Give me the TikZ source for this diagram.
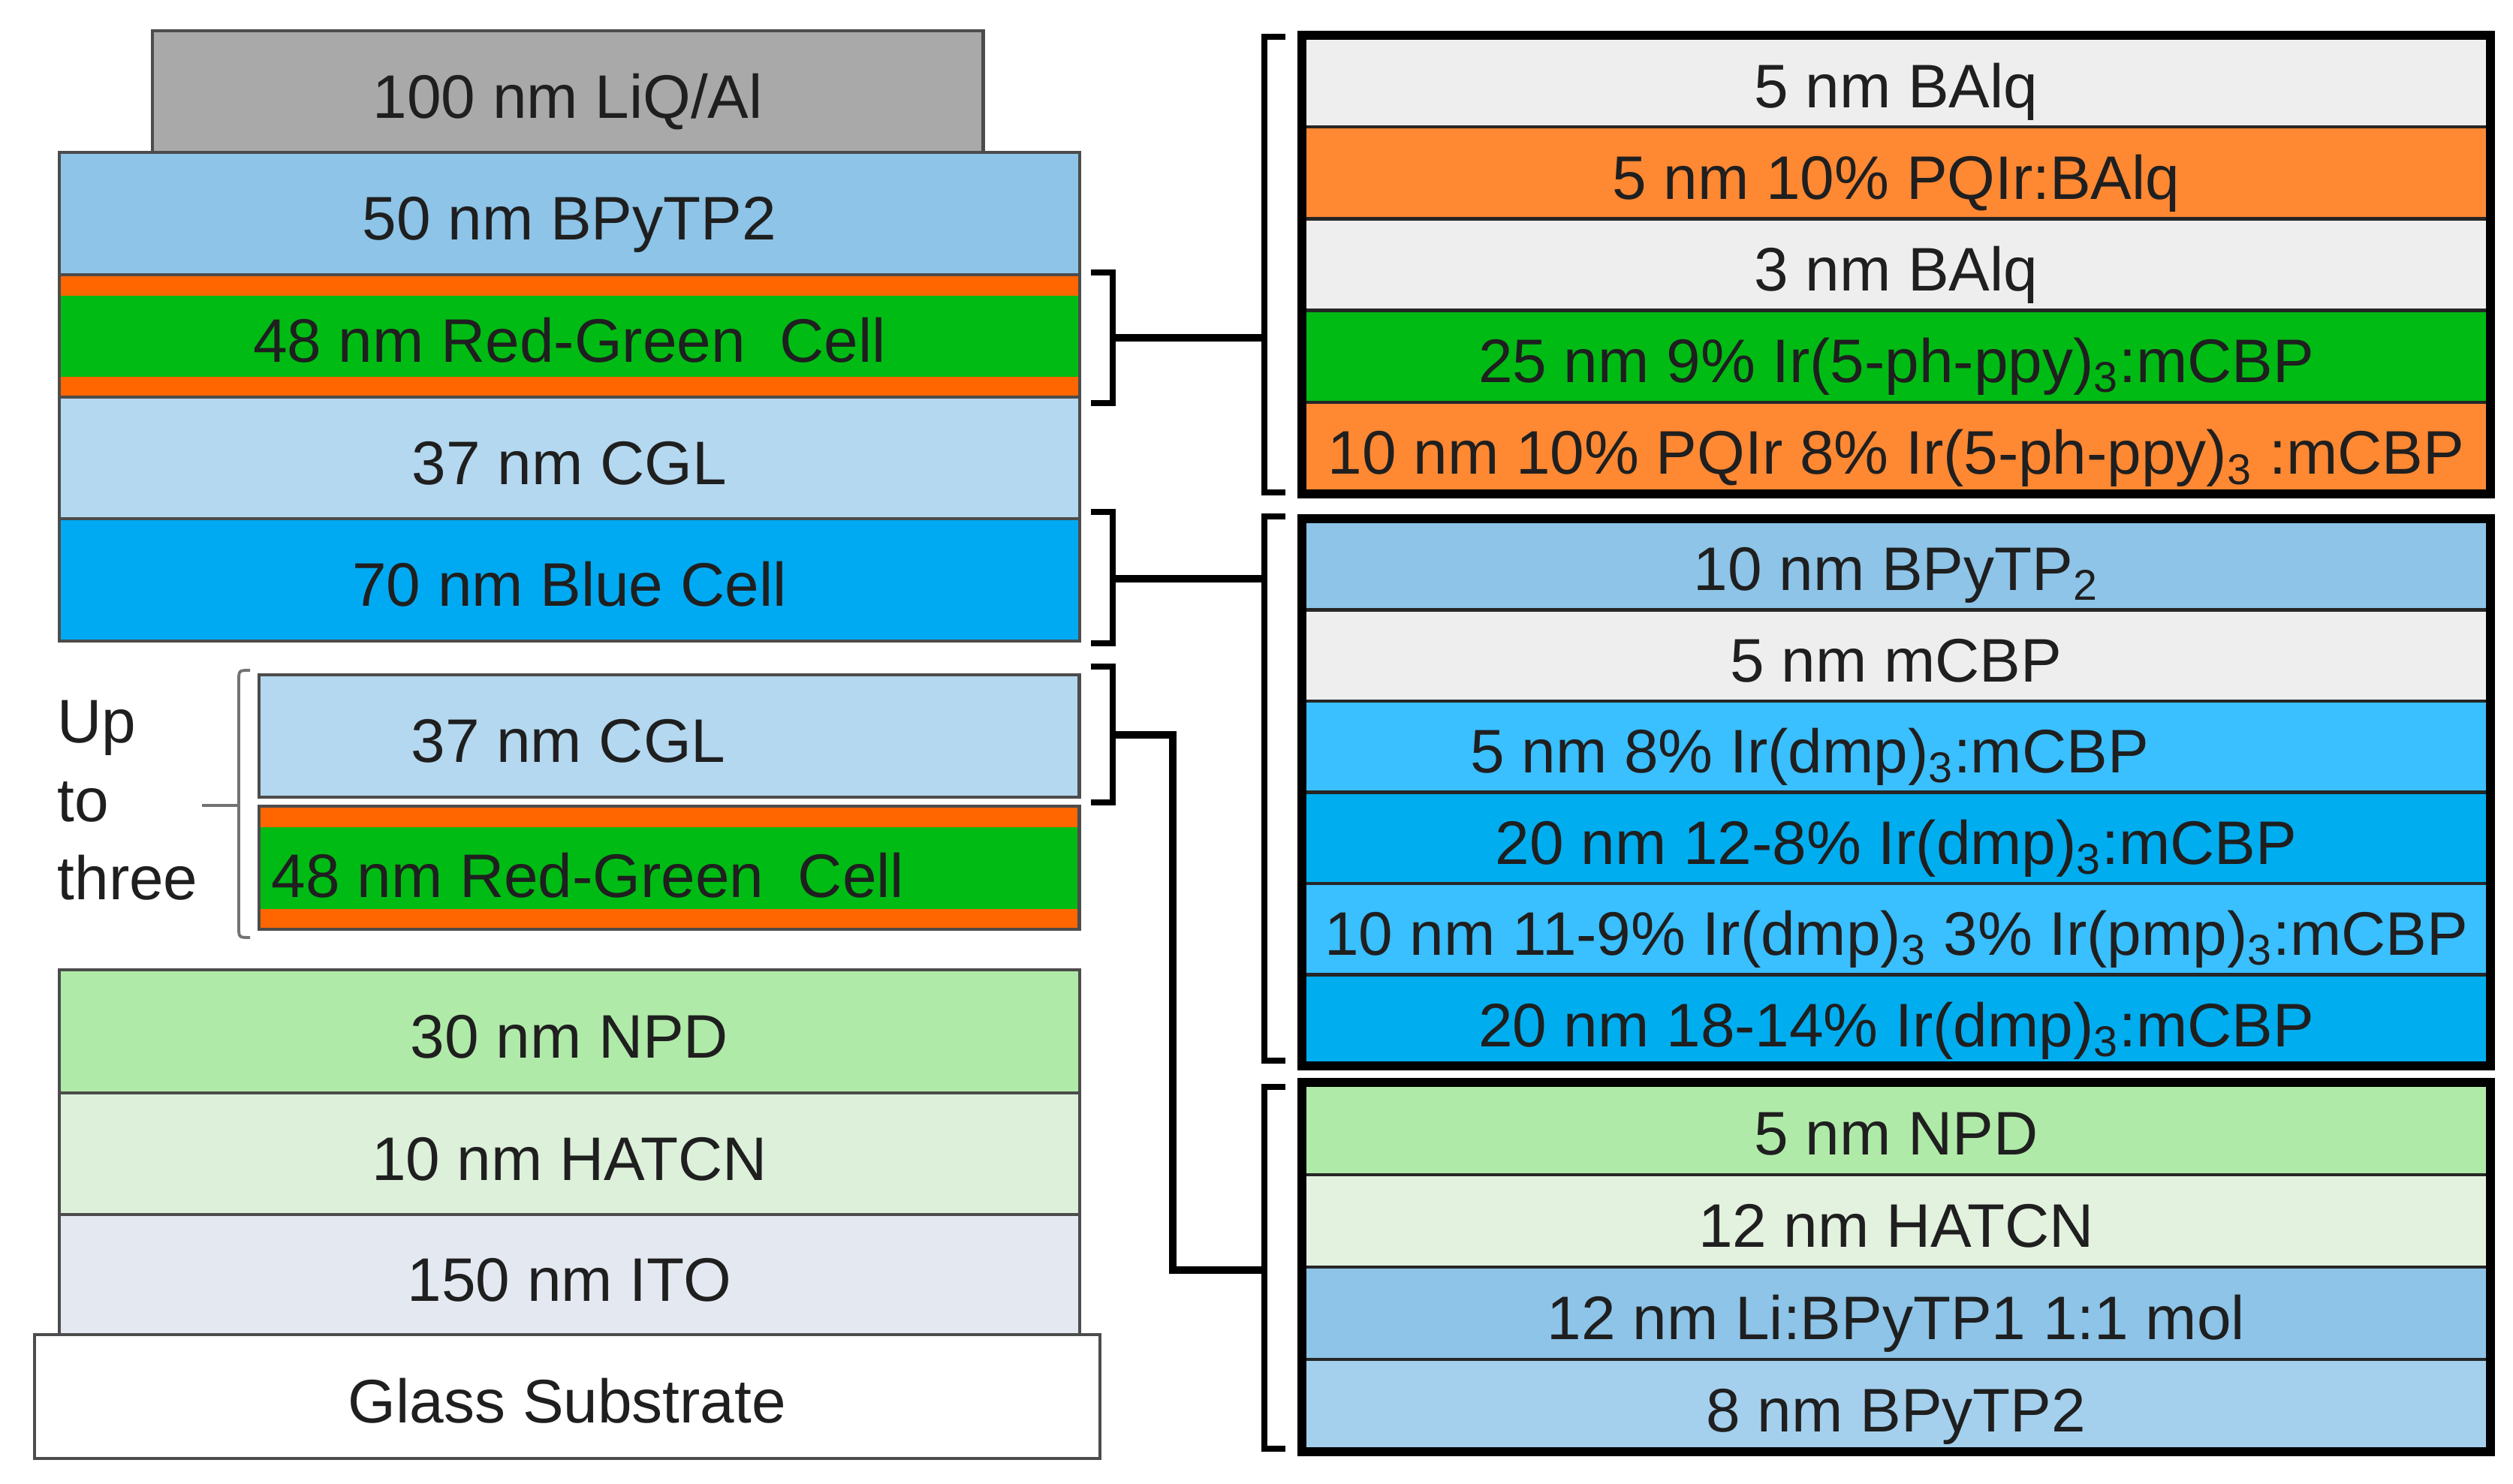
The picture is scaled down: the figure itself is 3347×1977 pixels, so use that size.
\documentclass[tikz,border=0pt]{standalone}
\usepackage{fontspec}
\setmainfont{Liberation Sans}
\definecolor{cLiq}{HTML}{A9A9A9}
\definecolor{cBpy}{HTML}{8DC4E8}
\definecolor{cBpyB}{HTML}{A4D0EE}
\definecolor{cCgl}{HTML}{B4D8F0}
\definecolor{cBlue}{HTML}{00AAF2}
\definecolor{cBlueB}{HTML}{00ADEF}
\definecolor{cLtBlue}{HTML}{3ABFFF}
\definecolor{cGreen}{HTML}{00BB14}
\definecolor{cOrL}{HTML}{FF6600}
\definecolor{cOrR}{HTML}{FF8833}
\definecolor{cGray}{HTML}{EEEEEE}
\definecolor{cNpd}{HTML}{B0EAA8}
\definecolor{cHat}{HTML}{DCF0DA}
\definecolor{cHatR}{HTML}{E3F1DF}
\definecolor{cIto}{HTML}{E4E9F1}
\begin{document}
\begin{tikzpicture}[x=0.01cm,y=-0.01cm,
  lbl/.style={font=\fontsize{23.3}{28}\selectfont, text=black!88, inner sep=0pt, text height=0.70cm, text depth=0pt},
  lay/.style={lbl, draw=black!70, line width=1.3pt, anchor=north west, outer sep=0pt},
  leftrow/.style={lay, minimum width=13.58cm},
  rrow/.style={lay, draw=black!85, minimum width=15.82cm},
  rgfill/.style={fill=cGreen, path picture={
     \fill[cOrL] (path picture bounding box.north west) rectangle ([yshift=-0.28cm]path picture bounding box.north east);
     \fill[cOrL] (path picture bounding box.south west) rectangle ([yshift=0.27cm]path picture bounding box.south east);}},
  outerbox/.style={draw=black, line width=3.4pt},
  brk/.style={draw=black, line width=2.3pt},
  conn/.style={draw=black, line width=2.6pt},
  curl/.style={draw=black!55, line width=1.1pt}
]
\path[use as bounding box, fill=white] (0,0) rectangle (3347,1977);

% ---- left stack ----
\node[lay, fill=cLiq, minimum width=11.06cm, minimum height=1.62cm] (liq) at (203,41) {100 nm LiQ/Al};
\node[leftrow, fill=cBpy, minimum height=1.63cm] (bpy) at (79,203) {50 nm BPyTP2};
\node[leftrow, rgfill, minimum height=1.63cm] (rgA) at (79,366) {48 nm Red-Green\ \ Cell};
\node[leftrow, fill=cCgl, minimum height=1.62cm] (cglA) at (79,529) {37 nm CGL};
\node[leftrow, fill=cBlue, minimum height=1.63cm] (blue) at (79,691) {70 nm Blue Cell};

\node[lay, fill=cCgl, minimum width=10.92cm, minimum height=1.63cm] (cglB) at (345,899) {};
\node[lbl] (cglBt) at (757,980) {37 nm CGL};
\node[lay, rgfill, minimum width=10.92cm, minimum height=1.64cm] (rgB) at (345,1074) {};
\node[lbl] (rgBt) at (783,1160) {48 nm Red-Green\ \ Cell};

\node[leftrow, fill=cNpd, minimum height=1.64cm] (npd) at (79,1292) {30 nm NPD};
\node[leftrow, fill=cHat, minimum height=1.62cm] (hat) at (79,1456) {10 nm HATCN};
\node[leftrow, fill=cIto, minimum height=1.60cm] (ito) at (79,1618) {150 nm ITO};
\node[lay, fill=white, minimum width=14.18cm, minimum height=1.65cm] (glass) at (46,1778) {Glass Substrate};

% ---- "Up to three" and curly brace ----
\node[lbl, anchor=base west, text height=, text depth=] (up) at (76,990) {Up};
\node[lbl, anchor=base west, text height=, text depth=] (to) at (76,1095) {to};
\node[lbl, anchor=base west, text height=, text depth=] (three) at (76,1199) {three};
\coordinate (curlTip) at (269,1073);
\draw[curl] (333,893) .. controls (318,893) .. (318,908) -- (318,1234) .. controls (318,1249) .. (333,1249);
\draw[curl] (curlTip) -- (318,1073);

% ---- right: top group ----
\node[rrow, fill=cGray, minimum height=1.222cm] (tA) at (1734,47) {5 nm BAlq};
\node[rrow, fill=cOrR, minimum height=1.222cm] (tB) at (1734,169.2) {5 nm 10\% PQIr:BAlq};
\node[rrow, fill=cGray, minimum height=1.222cm] (tC) at (1734,291.4) {3 nm BAlq};
\node[rrow, fill=cGreen, minimum height=1.222cm] (tD) at (1734,413.6) {25 nm 9\% Ir(5-ph-ppy)\textsubscript{3}:mCBP};
\node[rrow, fill=cOrR, minimum height=1.222cm] (tE) at (1734,535.8) {10 nm 10\% PQIr 8\% Ir(5-ph-ppy)\textsubscript{3} :mCBP};
\draw[outerbox] (tA.north west) rectangle (tE.south east);

% ---- right: middle group ----
\node[rrow, fill=cBpy, minimum height=1.215cm] (mA) at (1734,691) {10 nm BPyTP\textsubscript{2}};
\node[rrow, fill=cGray, minimum height=1.215cm] (mB) at (1734,812.5) {5 nm mCBP};
\node[rrow, fill=cLtBlue, minimum height=1.215cm] (mC) at (1734,934) {};
\node[lbl] (mCt) at (2410,994.75) {5 nm 8\% Ir(dmp)\textsubscript{3}:mCBP};
\node[rrow, fill=cBlueB, minimum height=1.215cm] (mD) at (1734,1055.5) {20 nm 12-8\% Ir(dmp)\textsubscript{3}:mCBP};
\node[rrow, fill=cLtBlue, minimum height=1.215cm] (mE) at (1734,1177) {10 nm 11-9\% Ir(dmp)\textsubscript{3} 3\% Ir(pmp)\textsubscript{3}:mCBP};
\node[rrow, fill=cBlueB, minimum height=1.215cm] (mF) at (1734,1298.5) {20 nm 18-14\% Ir(dmp)\textsubscript{3}:mCBP};
\draw[outerbox] (mA.north west) rectangle (mF.south east);

% ---- right: bottom group ----
\node[rrow, fill=cNpd, minimum height=1.23cm] (bA) at (1734,1442) {5 nm NPD};
\node[rrow, fill=cHatR, minimum height=1.23cm] (bB) at (1734,1565) {12 nm HATCN};
\node[rrow, fill=cBpy, minimum height=1.23cm] (bC) at (1734,1688) {12 nm Li:BPyTP1 1:1 mol};
\node[rrow, fill=cBpyB, minimum height=1.23cm] (bD) at (1734,1811) {8 nm BPyTP2};
\draw[outerbox] (bA.north west) rectangle (bD.south east);

% ---- brackets ----
\draw[brk] (1453,363) -- (1482,363) -- (1482,537) -- (1453,537);
\draw[brk] (1453,682) -- (1482,682) -- (1482,857) -- (1453,857);
\draw[brk] (1453,888) -- (1482,888) -- (1482,1069) -- (1453,1069);
\draw[brk] (1712,49) -- (1684,49) -- (1684,656) -- (1712,656);
\draw[brk] (1712,688) -- (1684,688) -- (1684,1413) -- (1712,1413);
\draw[brk] (1712,1448) -- (1684,1448) -- (1684,1930) -- (1712,1930);

% ---- connectors ----
\coordinate (kA) at (1482,450);
\coordinate (jA) at (1684,450);
\coordinate (kB) at (1482,771);
\coordinate (jB) at (1684,771);
\coordinate (kC) at (1482,979);
\coordinate (jC) at (1684,1692);
\draw[conn] (kA) -- (jA);
\draw[conn] (kB) -- (jB);
\draw[conn] (kC) -- (1562,979) -- (1562,1692) -- (jC);
\end{tikzpicture}
\end{document}
